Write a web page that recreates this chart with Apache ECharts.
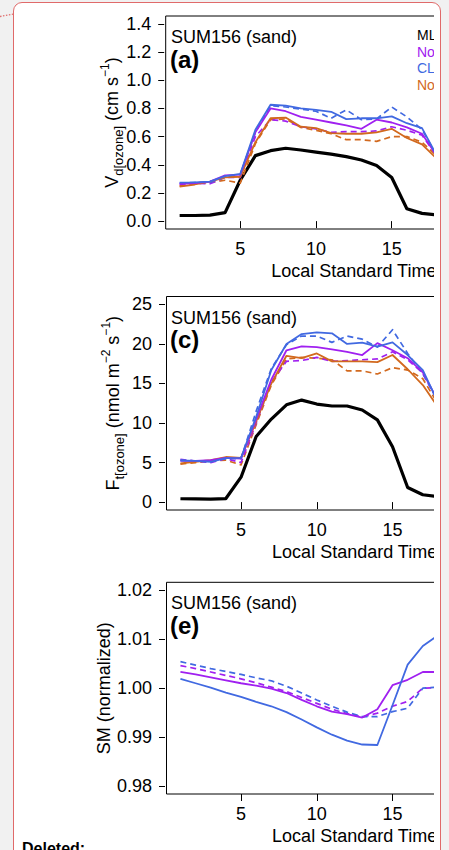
<!DOCTYPE html>
<html>
<head>
<meta charset="utf-8">
<script src="https://cdn.jsdelivr.net/npm/echarts@6/dist/echarts.min.js"></script>
<style>
html,body{margin:0;padding:0;width:449px;height:850px;overflow:hidden;background:#f1f1f1;}
#box{position:absolute;left:13px;top:2px;width:425.5px;height:900px;background:#fff;border:1.5px solid #e06a6a;border-radius:9px;}
#clip{position:absolute;left:0;top:0;width:434px;height:850px;overflow:hidden;}
#chart{position:absolute;left:0;top:0;width:560px;height:850px;}
</style>
</head>
<body>
<div id="box"></div>
<div id="clip"><div id="chart"></div></div>
<script>
// ---------------- data ----------------
const hours = [1,2,3,4,5,6,7,8,9,10,11,12,13,14,15,16,17,18];
const modelNames = ['MLC-CHEM', 'Noah-MP BB', 'CLM5', 'Noah-MP Jarvis'];
const siteLabel = 'SUM156 (sand)';
const panelTags = ['(a)', '(c)', '(e)'];
const xTickValues = [5, 10, 15, 20];
const vdTickValues = [0, 0.2, 0.4, 0.6, 0.8, 1.0, 1.2, 1.4];
const ftTickValues = [0, 5, 10, 15, 20, 25];
const smTickValues = [0.98, 0.99, 1.00, 1.01, 1.02];

// (a) ozone deposition velocity, cm s-1
const vdMLC     = [0.040,0.040,0.043,0.060,0.290,0.465,0.500,0.517,0.505,0.490,0.475,0.458,0.434,0.394,0.310,0.088,0.055,0.043];
const vdPurple  = [0.265,0.270,0.280,0.325,0.330,0.630,0.800,0.780,0.740,0.720,0.700,0.680,0.655,0.720,0.700,0.665,0.620,0.460];
const vdPurpleD = [0.260,0.270,0.265,0.310,0.310,0.600,0.720,0.710,0.670,0.655,0.630,0.635,0.635,0.640,0.670,0.645,0.610,0.460];
const vdBlue    = [0.273,0.275,0.280,0.320,0.335,0.648,0.826,0.820,0.800,0.790,0.776,0.724,0.730,0.730,0.743,0.695,0.660,0.460];
const vdBlueD   = [0.270,0.275,0.275,0.310,0.330,0.630,0.820,0.810,0.795,0.780,0.730,0.790,0.720,0.725,0.810,0.740,0.650,0.460];
const vdOrange  = [0.245,0.260,0.280,0.310,0.315,0.560,0.730,0.735,0.670,0.660,0.625,0.620,0.620,0.630,0.655,0.590,0.545,0.440];
const vdOrangeD = [0.250,0.265,0.275,0.290,0.270,0.550,0.720,0.725,0.665,0.645,0.620,0.578,0.578,0.566,0.600,0.600,0.560,0.460];

// (c) ozone flux, nmol m-2 s-1
const ftMLC     = [0.42,0.40,0.38,0.45,3.15,8.3,10.5,12.3,12.9,12.4,12.15,12.15,11.65,10.4,7.0,1.85,0.93,0.70];
const ftPurple  = [5.2,5.2,5.3,5.6,5.5,10.5,15.5,19.2,19.7,19.6,19.3,19.0,18.6,20.1,19.2,18.2,16.4,12.8];
const ftPurpleD = [5.4,5.2,5.0,5.5,5.0,10.0,15.2,17.8,17.9,18.3,17.8,17.9,18.0,18.1,19.0,18.0,16.3,12.8];
const ftBlue    = [5.26,5.2,5.1,5.55,5.6,10.8,16.7,20.0,21.25,21.46,21.34,20.0,20.16,19.65,20.2,18.6,16.7,12.6];
const ftBlueD   = [5.3,5.2,5.1,5.5,5.5,11.5,16.9,19.9,21.0,21.0,20.2,21.0,20.6,19.6,21.8,18.8,16.2,12.8];
const ftOrange  = [4.9,5.1,5.3,5.7,5.6,10.2,15.0,18.5,18.2,18.8,17.8,17.8,17.8,17.7,18.6,16.8,14.8,12.0];
const ftOrangeD = [4.8,5.0,5.2,5.3,4.7,9.8,14.8,18.1,18.3,18.2,18.0,16.6,16.6,16.2,17.0,16.7,15.6,12.4];

// (e) soil moisture, normalized
const smPurple  = [1.0033,1.0028,1.0022,1.0016,1.0010,1.0005,0.9999,0.9990,0.9976,0.9963,0.9952,0.9947,0.9940,0.9957,1.0006,1.0017,1.0033,1.0033];
const smPurpleD = [1.0046,1.0040,1.0033,1.0026,1.0019,1.0011,1.0002,0.9993,0.9981,0.9969,0.9957,0.9948,0.9941,0.9949,0.9963,0.9973,1.0000,1.0001];
const smBlue    = [1.0019,1.0010,1.0001,0.9991,0.9982,0.9972,0.9963,0.9951,0.9936,0.9920,0.9905,0.9893,0.9885,0.9884,0.9965,1.0048,1.0086,1.0108];
const smBlueD   = [1.0054,1.0047,1.0040,1.0034,1.0028,1.0021,1.0015,1.0004,0.9990,0.9976,0.9963,0.9951,0.9942,0.9942,0.9952,0.9959,1.0000,1.0002];

// ---------------- styling ----------------
const FONT = '"Liberation Sans", Arial, Helvetica, sans-serif';
const colors = ['#000000', '#a020f0', '#4169e1', '#d2691e'];

const grids = [
  {left: 165.7, top: 16,    width: 376.3, height: 213},
  {left: 166.5, top: 296.5, width: 376.3, height: 213.5},
  {left: 166.5, top: 582.3, width: 376.3, height: 211.7}
];

const richName = {
  m: {fontSize: 18, lineHeight: 26, verticalAlign: 'middle', color: '#000', fontFamily: FONT},
  s: {fontSize: 13, lineHeight: 12, verticalAlign: 'bottom', color: '#000', fontFamily: FONT},
  p: {fontSize: 12, lineHeight: 12, verticalAlign: 'top', color: '#000', fontFamily: FONT}
};

function xAxisFor(i) {
  return {
    gridIndex: i, type: 'value', min: 0.08, max: 24.92,
    axisLine: {show: false},
    axisTick: {show: true, length: 7, inside: false, customValues: xTickValues, lineStyle: {color: '#000', width: 1}},
    axisLabel: {customValues: xTickValues, fontSize: 18, color: '#000', fontFamily: FONT, margin: 11},
    splitLine: {show: false},
    name: 'Local Standard Time', nameLocation: 'middle', nameGap: 33, nameMoveOverlap: false,
    nameTextStyle: {fontSize: 18, color: '#000', fontFamily: FONT}
  };
}
function yAxisFor(i, min, max, ticks, digits, name, gap) {
  return {
    gridIndex: i, type: 'value', min: min, max: max, offset: 1.5,
    axisLine: {show: false},
    axisTick: {show: true, length: 6, inside: false, customValues: ticks, lineStyle: {color: '#000', width: 1}},
    axisLabel: {customValues: ticks, fontSize: 18, color: '#000', fontFamily: FONT, margin: 13,
                formatter: v => Number(v).toFixed(digits)},
    splitLine: {show: false},
    name: name, nameLocation: 'middle', nameRotate: 90, nameGap: gap, nameMoveOverlap: false,
    nameTextStyle: {fontSize: 18, color: '#000', fontFamily: FONT, rich: richName}
  };
}

function line(name, g, vals, color, width, dashed, z) {
  return {
    type: 'line', name: name, xAxisIndex: g, yAxisIndex: g,
    data: hours.map((h, k) => [h, vals[k]]),
    symbol: 'none', showSymbol: false, silent: true, z: z,
    lineStyle: {color: color, width: width, type: dashed ? [6, 4] : 'solid', cap: 'butt', join: 'round'},
    itemStyle: {color: color}
  };
}

const series = [
  // panel a
  line(modelNames[0], 0, vdMLC, colors[0], 3.2, false, 2),
  line(modelNames[3] + ' alt', 0, vdOrangeD, colors[3], 1.7, true, 3),
  line(modelNames[1] + ' alt', 0, vdPurpleD, colors[1], 1.7, true, 3),
  line(modelNames[2] + ' alt', 0, vdBlueD, colors[2], 1.7, true, 3),
  line(modelNames[3], 0, vdOrange, colors[3], 1.8, false, 4),
  line(modelNames[1], 0, vdPurple, colors[1], 1.8, false, 4),
  line(modelNames[2], 0, vdBlue, colors[2], 1.8, false, 4),
  // panel c
  line(modelNames[0], 1, ftMLC, colors[0], 3.2, false, 2),
  line(modelNames[3] + ' alt', 1, ftOrangeD, colors[3], 1.7, true, 3),
  line(modelNames[1] + ' alt', 1, ftPurpleD, colors[1], 1.7, true, 3),
  line(modelNames[2] + ' alt', 1, ftBlueD, colors[2], 1.7, true, 3),
  line(modelNames[3], 1, ftOrange, colors[3], 1.8, false, 4),
  line(modelNames[1], 1, ftPurple, colors[1], 1.8, false, 4),
  line(modelNames[2], 1, ftBlue, colors[2], 1.8, false, 4),
  // panel e
  line(modelNames[1] + ' alt', 2, smPurpleD, colors[1], 1.7, true, 3),
  line(modelNames[2] + ' alt', 2, smBlueD, colors[2], 1.7, true, 3),
  line(modelNames[1], 2, smPurple, colors[1], 1.8, false, 4),
  line(modelNames[2], 2, smBlue, colors[2], 1.8, false, 4)
];

const graphic = [
  {type: 'line', shape: {x1: 0, y1: 16.5, x2: 13, y2: 14.2},
   style: {stroke: '#e07070', lineWidth: 1.3, lineDash: [1.5, 1.5]}, silent: true},
  {type: 'text', left: 22, top: 840, silent: true,
   style: {text: 'Deleted:', font: 'bold 16px ' + FONT, fill: '#000'}}
];
grids.forEach((g, i) => {
  graphic.push({type: 'text', left: 171, top: g.top + 12, silent: true, z: 10,
    style: {text: siteLabel, font: '18px ' + FONT, fill: '#000'}});
  graphic.push({type: 'text', left: 170, top: g.top + 31, silent: true, z: 10,
    style: {text: panelTags[i], font: 'bold 24px ' + FONT, fill: '#000'}});
});

const option = {
  animation: false,
  backgroundColor: 'transparent',
  textStyle: {fontFamily: FONT},
  grid: grids.map(g => Object.assign({show: true, borderColor: '#000', borderWidth: 1, backgroundColor: 'transparent'}, g)),
  xAxis: [xAxisFor(0), xAxisFor(1), xAxisFor(2)],
  yAxis: [
    yAxisFor(0, -0.056, 1.456, vdTickValues, 1, '{m|V}{s|d[ozone]}{m| (cm s}{p|−1}{m|)}', 39),
    yAxisFor(1, -1, 26, ftTickValues, 0, '{m|F}{s|t[ozone]}{m| (nmol m}{p|−2}{m| s}{p|−1}{m|)}', 39),
    yAxisFor(2, 0.9784, 1.0216, smTickValues, 2, '{m|SM (normalized)}', 48)
  ],
  legend: {
    orient: 'vertical', left: 407, top: 22, padding: 5,
    itemWidth: 0, itemHeight: 0, itemGap: 0, icon: 'none', selectedMode: false,
    textStyle: {fontSize: 14, lineHeight: 16.5, fontFamily: FONT},
    data: modelNames.map((n, i) => ({name: n, textStyle: {color: colors[i]}}))
  },
  graphic: graphic,
  series: series
};

const chart = echarts.init(document.getElementById('chart'), null, {renderer: 'svg'});
chart.setOption(option);
</script>
</body>
</html>
